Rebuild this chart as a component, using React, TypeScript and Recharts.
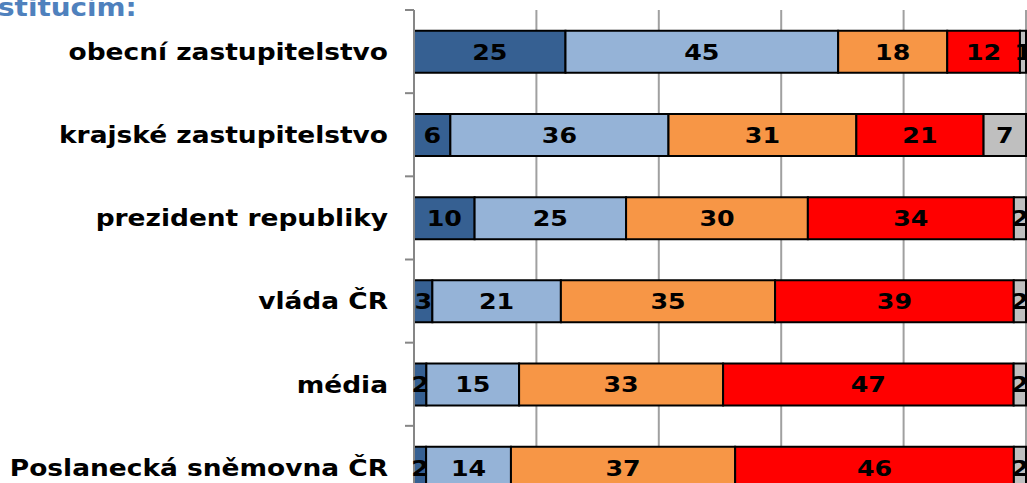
import { BarChart, Bar, XAxis, YAxis, CartesianGrid, LabelList } from 'recharts';

const categories = [
  'obecní zastupitelstvo',
  'krajské zastupitelstvo',
  'prezident republiky',
  'vláda ČR',
  'média',
  'Poslanecká sněmovna ČR',
];

const rozhodneDuveruje = [25, 6, 10, 3, 2, 2];
const spiseDuveruje = [45, 36, 25, 21, 15, 14];
const spiseNeduveruje = [18, 31, 30, 35, 33, 37];
const rozhodneNeduveruje = [12, 21, 34, 39, 47, 46];
const nevi = [1, 7, 2, 2, 2, 2];

const shareTicks = [0, 0.2, 0.4, 0.6, 0.8, 1];

const series = [
  { key: 'a', values: rozhodneDuveruje, color: '#366092' },
  { key: 'b', values: spiseDuveruje, color: '#95B3D7' },
  { key: 'c', values: spiseNeduveruje, color: '#F79646' },
  { key: 'd', values: rozhodneNeduveruje, color: '#FF0000' },
  { key: 'e', values: nevi, color: '#BFBFBF' },
];

const data = categories.map((name, i) => {
  const row: Record<string, string | number> = { name };
  series.forEach((s) => {
    row[s.key] = s.values[i];
  });
  return row;
});

const FONT = '"DejaVu Sans", Verdana, sans-serif';
// the source image is stretched a bit horizontally
const STRETCH = 1.15;

function CategoryTick(props: any) {
  const { x, y, payload, index } = props;
  const half = payload?.offset ?? 41.6;
  return (
    <g>
      <line x1={x - 9} x2={x} y1={y - half} y2={y - half} stroke="#868686" strokeWidth={2} />
      {index === categories.length - 1 && (
        <line x1={x - 9} x2={x} y1={y + half} y2={y + half} stroke="#868686" strokeWidth={2} />
      )}
      <text
        transform={`translate(${x - 26},${y}) scale(${STRETCH},1)`}
        dy="0.36em"
        textAnchor="end"
        fontFamily={FONT}
        fontWeight="bold"
        fontSize={23}
        fill="#000"
      >
        {payload.value}
      </text>
    </g>
  );
}

function ValueLabel(props: any) {
  const { x, y, width, height, value } = props;
  const cx = Number(x) + Number(width) / 2;
  const cy = Number(y) + Number(height) / 2;
  return (
    <text
      transform={`translate(${cx},${cy}) scale(${STRETCH},1)`}
      dy="0.36em"
      textAnchor="middle"
      fontFamily={FONT}
      fontWeight="bold"
      fontSize={22}
      fill="#000"
    >
      {value}
    </text>
  );
}

export default function App() {
  return (
    <div style={{ position: 'absolute', left: 0, top: 0, width: 1040, height: 520 }}>
      <div
        style={{
          position: 'absolute',
          left: -2,
          top: -6,
          fontFamily: FONT,
          fontWeight: 'bold',
          fontSize: 24,
          color: '#4F81BD',
          whiteSpace: 'nowrap',
          transform: 'scaleX(1.16)',
          transformOrigin: 'left top',
          zIndex: 1,
        }}
      >
        stitucím:
      </div>
      <BarChart
        width={1040}
        height={520}
        data={data}
        layout="vertical"
        stackOffset="expand"
        barCategoryGap="25%"
        margin={{ top: 10, right: 14, bottom: 11, left: 0 }}
      >
        <CartesianGrid horizontal={false} stroke="#A0A0A0" strokeWidth={2} />
        <XAxis type="number" domain={[0, 1]} ticks={shareTicks} hide />
        <YAxis
          type="category"
          dataKey="name"
          width={414}
          axisLine={{ stroke: '#868686', strokeWidth: 2 }}
          tickLine={false}
          tickSize={0}
          tickMargin={0}
          interval={0}
          tick={<CategoryTick />}
        />
        {series.map((s) => (
          <Bar
            key={s.key}
            dataKey={s.key}
            stackId="x"
            fill={s.color}
            stroke="#000"
            strokeWidth={2}
            isAnimationActive={false}
          >
            <LabelList dataKey={s.key} content={<ValueLabel />} />
          </Bar>
        ))}
      </BarChart>
    </div>
  );
}
